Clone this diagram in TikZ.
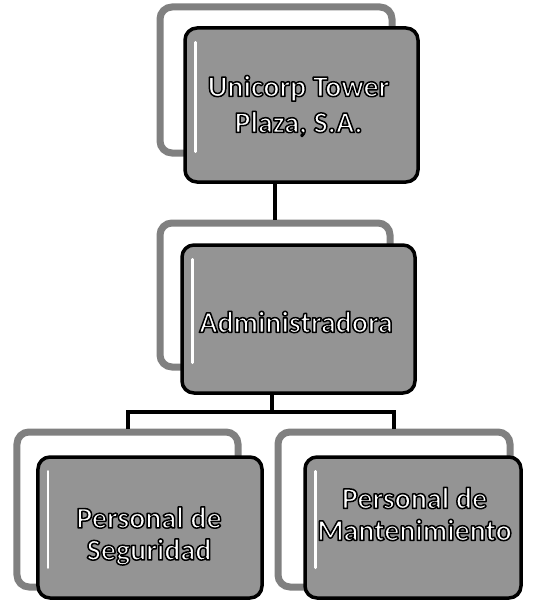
\documentclass[tikz,border=0pt]{standalone}
\usepackage{fontspec}
\setmainfont{Carlito}
\newcommand\otext[1]{\special{pdf:code q 2 Tr 1.5 w 1 j 0 0 0 RG}#1\special{pdf:code Q}}
\tikzset{
  backbox/.style={draw=black!50, line width=7bp, fill=white, rounded corners=12bp, inner sep=0pt},
  frontbox/.style={draw=black, line width=3.5bp, fill=black!42, rounded corners=12bp, inner sep=0pt},
  gloss/.style={white, line width=2.5bp, line cap=round},
  conn/.style={draw=black, line width=4bp},
  label/.style={align=center, text=white, inner sep=0pt, font=\bfseries\fontsize{30bp}{36bp}\selectfont},
  labeltight/.style={label, font=\bfseries\fontsize{30bp}{32bp}\selectfont}
}
\begin{document}
\begin{tikzpicture}[x=1bp,y=-1bp]
\useasboundingbox (0,0) rectangle (539,604);
% back boxes
\node[backbox, minimum width=232bp, minimum height=146bp] (topback) at (276,80) {};
\node[backbox, minimum width=230bp, minimum height=144bp] (midback) at (275,295) {};
\node[backbox, minimum width=221bp, minimum height=155bp] (lback) at (127.5,509.5) {};
\node[backbox, minimum width=232bp, minimum height=155bp] (rback) at (394,509.5) {};
% connectors
\coordinate (j1) at (275,182);
\draw[conn] (j1) -- (midback.north);
\coordinate (j2) at (272,393);
\coordinate (j3) at (272,412);
\draw[conn] (j2) -- (j3);
\draw[conn] (lback.north) |- (j3) -| (rback.north);
% front boxes
\node[frontbox, minimum width=233bp, minimum height=154bp] (topfront) at (301.5,105) {};
\node[frontbox, minimum width=233bp, minimum height=148bp] (midfront) at (298.5,319) {};
\node[frontbox, minimum width=224bp, minimum height=141bp] (lfront) at (150,527.5) {};
\node[frontbox, minimum width=216bp, minimum height=141bp] (rfront) at (413,527.5) {};
% gloss strips
\foreach \n in {topfront,midfront,lfront,rfront}{
  \draw[gloss] ([shift={(12,16)}]\n.north west) -- ([shift={(12,-32)}]\n.south west);
}
% labels
\node[label] (t1) at (298.5,106) {\otext{Unicorp Tower}\\\otext{Plaza, S.A.}};
\node[label] (t2) at (296,322) {\otext{Administradora}};
\node[labeltight] (t3) at (149,536) {\otext{Personal de}\\\otext{Seguridad}};
\node[labeltight] (t4) at (414.5,514) {\otext{Personal de}\\\otext{Mantenimiento}};
\end{tikzpicture}
\end{document}
